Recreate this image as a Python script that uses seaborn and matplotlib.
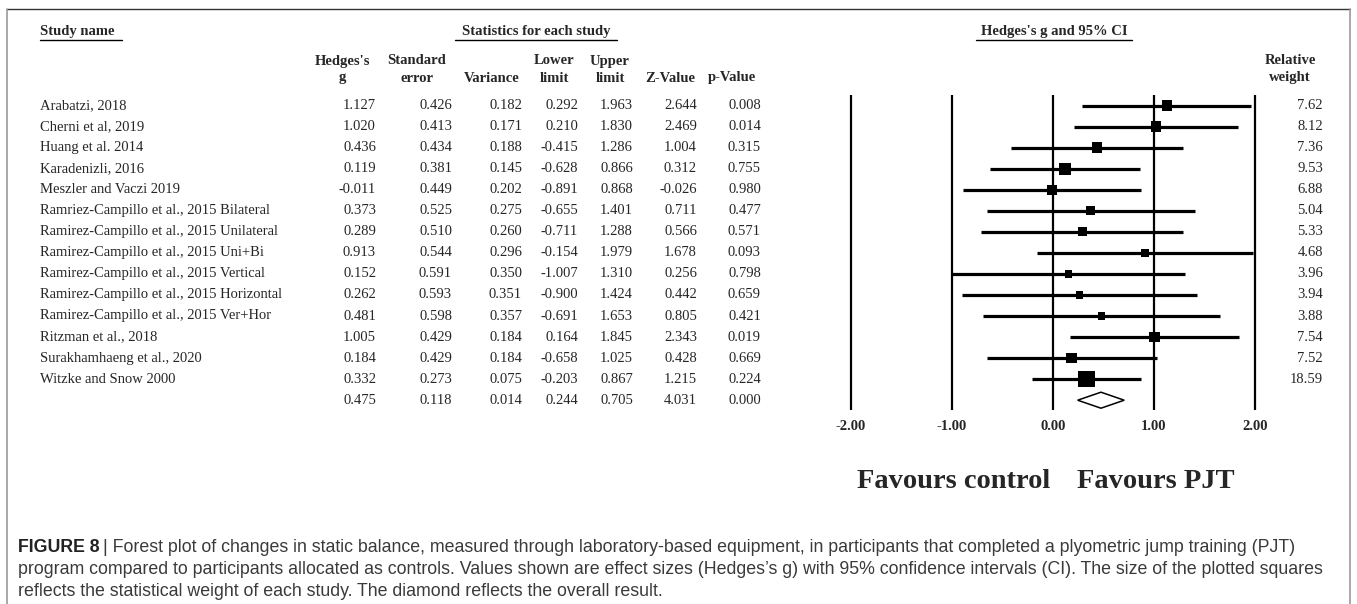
import numpy as np
import pandas as pd
import matplotlib
matplotlib.use("Agg")
import matplotlib.pyplot as plt
import matplotlib.transforms as mtransforms
from matplotlib.lines import Line2D
import seaborn as sns

# ---------------- data ----------------
studies = [
    "Arabatzi, 2018",
    "Cherni et al, 2019",
    "Huang et al. 2014",
    "Karadenizli, 2016",
    "Meszler and Vaczi 2019",
    "Ramriez-Campillo et al., 2015 Bilateral",
    "Ramirez-Campillo et al., 2015 Unilateral",
    "Ramirez-Campillo et al., 2015 Uni+Bi",
    "Ramirez-Campillo et al., 2015 Vertical",
    "Ramirez-Campillo et al., 2015 Horizontal",
    "Ramirez-Campillo et al., 2015 Ver+Hor",
    "Ritzman et al., 2018",
    "Surakhamhaeng et al., 2020",
    "Witzke and Snow 2000",
]
hedges_g = [1.127, 1.020, 0.436, 0.119, -0.011, 0.373, 0.289, 0.913, 0.152, 0.262, 0.481, 1.005, 0.184, 0.332]
std_err = [0.426, 0.413, 0.434, 0.381, 0.449, 0.525, 0.510, 0.544, 0.591, 0.593, 0.598, 0.429, 0.429, 0.273]
variance = [0.182, 0.171, 0.188, 0.145, 0.202, 0.275, 0.260, 0.296, 0.350, 0.351, 0.357, 0.184, 0.184, 0.075]
lower = [0.292, 0.210, -0.415, -0.628, -0.891, -0.655, -0.711, -0.154, -1.007, -0.900, -0.691, 0.164, -0.658, -0.203]
upper = [1.963, 1.830, 1.286, 0.866, 0.868, 1.401, 1.288, 1.979, 1.310, 1.424, 1.653, 1.845, 1.025, 0.867]
z_value = [2.644, 2.469, 1.004, 0.312, -0.026, 0.711, 0.566, 1.678, 0.256, 0.442, 0.805, 2.343, 0.428, 1.215]
p_value = [0.008, 0.014, 0.315, 0.755, 0.980, 0.477, 0.571, 0.093, 0.798, 0.659, 0.421, 0.019, 0.669, 0.224]
rel_weight = [7.62, 8.12, 7.36, 9.53, 6.88, 5.04, 5.33, 4.68, 3.96, 3.94, 3.88, 7.54, 7.52, 18.59]
# overall: g, SE, variance, lower, upper, Z, p
summary = [0.475, 0.118, 0.014, 0.244, 0.705, 4.031, 0.000]
x_ticks = [-2.0, -1.0, 0.0, 1.0, 2.0]
x_tick_labels = ["-2.00", "-1.00", "0.00", "1.00", "2.00"]

caption_lines = [
    "Forest plot of changes in static balance, measured through laboratory-based equipment, in participants that completed a plyometric jump training (PJT)",
    "program compared to participants allocated as controls. Values shown are effect sizes (Hedges\u2019s g) with 95% confidence intervals (CI). The size of the plotted squares",
    "reflects the statistical weight of each study. The diamond reflects the overall result.",
]

# ---------------- figure ----------------
sns.set_theme(style="white")
SERIF = ["Liberation Serif", "DejaVu Serif"]
SANS = ["Liberation Sans", "DejaVu Sans"]
plt.rcParams["font.family"] = SERIF

W, H = 1357, 604
fig = plt.figure(figsize=(W / 100, H / 100), dpi=100)
fig.patch.set_facecolor("white")


def fx(x):
    return x / W


def fy(y):
    return 1 - y / H


# row geometry (pixels): row i centre = Y0 + DY * i
Y0, DY = 105.5, 21.05
X0, DX = 1053.0, 101.0   # pixel of g=0, pixels per unit
xlim = (-2.3, 2.3)
ylim = (14.6, -0.7)
left_px = X0 + DX * xlim[0]
right_px = X0 + DX * xlim[1]
top_px = Y0 + DY * ylim[1]
bot_px = Y0 + DY * ylim[0]
ax = fig.add_axes([fx(left_px), fy(bot_px), (right_px - left_px) / W, (bot_px - top_px) / H])
ax.set_xlim(*xlim)
ax.set_ylim(*ylim)
for s in ax.spines.values():
    s.set_visible(False)
ax.set_yticks([])
ax.set_facecolor("none")

n = len(studies)
rows = np.arange(n)

# vertical reference lines
ax.vlines(x_ticks, (95 - Y0) / DY, (410 - Y0) / DY, color="black", lw=1.6, zorder=1)
# confidence intervals
ax.hlines(rows, lower, upper, color="black", lw=2.3, zorder=2)
# weighted squares
df = pd.DataFrame({"g": hedges_g, "row": rows, "w": rel_weight})
sns.scatterplot(data=df, x="g", y="row", size="w", sizes=(30, 140),
                size_norm=(min(rel_weight), max(rel_weight)), marker="s",
                color="black", edgecolor="black", linewidth=0, legend=False,
                ax=ax, zorder=3)
ax.set_xlabel("")
ax.set_ylabel("")
# summary diamond
sy = n
hh = 0.38
ax.fill([summary[3], summary[0], summary[4], summary[0]],
        [sy, sy - hh, sy, sy + hh], facecolor="white", edgecolor="black", lw=1.1, zorder=3)

ax.set_xticks(x_ticks)
ax.set_xticklabels(x_tick_labels, fontweight="bold", fontsize=10.5, family=SERIF)
ax.tick_params(axis="x", length=0, pad=5)

# ---------------- table text ----------------
trans = mtransforms.blended_transform_factory(fig.transFigure, ax.transData)
FS = 10.5
col_right = [376, 452, 522, 578, 633, 697, 761]
cols = [hedges_g, std_err, variance, lower, upper, z_value, p_value]
for i in range(n):
    fig.text(fx(40), i, studies[i], transform=trans, ha="left", va="center", fontsize=FS)
    for xr, col in zip(col_right, cols):
        fig.text(fx(xr), i, f"{col[i]:.3f}", transform=trans, ha="right", va="center", fontsize=FS)
    fig.text(fx(1323), i, f"{rel_weight[i]:.2f}", transform=trans, ha="right", va="center", fontsize=FS)
for xr, v in zip(col_right, summary):
    fig.text(fx(xr), n, f"{v:.3f}", transform=trans, ha="right", va="center", fontsize=FS)

# headers
HY1, HY2 = 61, 78
bold = dict(fontweight="bold", fontsize=FS, ha="center", va="center")
fig.text(fx(342), fy(HY1), "Hedges's", **bold)
fig.text(fx(342), fy(HY2), "g", **bold)
fig.text(fx(417), fy(HY1), "Standard", **bold)
fig.text(fx(417), fy(HY2), "error", **bold)
fig.text(fx(492), fy(HY2), "Variance", **bold)
fig.text(fx(554), fy(HY1), "Lower", **bold)
fig.text(fx(554), fy(HY2), "limit", **bold)
fig.text(fx(610), fy(HY1), "Upper", **bold)
fig.text(fx(610), fy(HY2), "limit", **bold)
fig.text(fx(670), fy(HY2), "Z-Value", **bold)
fig.text(fx(732), fy(HY2), "p-Value", **bold)
fig.text(fx(1290), fy(HY1), "Relative", **bold)
fig.text(fx(1290), fy(HY2), "weight", **bold)

TY = 32
fig.text(fx(40), fy(TY), "Study name", fontweight="bold", fontsize=FS, ha="left", va="center")
fig.text(fx(536), fy(TY), "Statistics for each study", fontweight="bold", fontsize=FS, ha="center", va="center")
fig.text(fx(1054), fy(TY), "Hedges's g and 95% CI", fontweight="bold", fontsize=FS, ha="center", va="center")
for x1, x2 in [(40, 122), (455, 617), (976, 1132)]:
    fig.add_artist(Line2D([fx(x1), fx(x2)], [fy(40), fy(40)], color="black", lw=1.0))

# favours labels
fig.text(fx(857), fy(482), "Favours control", fontweight="bold", fontsize=20.5, ha="left", va="center")
fig.text(fx(1077), fy(482), "Favours PJT", fontweight="bold", fontsize=20.5, ha="left", va="center")

# ---------------- caption ----------------
CFS = 12.75
cap_y = [547, 569, 591]
t0 = fig.text(fx(18), fy(cap_y[0]), "FIGURE 8", fontweight="bold", fontsize=CFS,
              family=SANS, color="#222222", ha="left", va="center")
fig.canvas.draw()
bb = t0.get_window_extent(renderer=fig.canvas.get_renderer())
fig.text(bb.x1 / W + fx(3), fy(cap_y[0]), "| " + caption_lines[0], fontsize=CFS,
         family=SANS, color="#3a3a3a", ha="left", va="center")
fig.text(fx(18), fy(cap_y[1]), caption_lines[1], fontsize=CFS, family=SANS,
         color="#3a3a3a", ha="left", va="center")
fig.text(fx(18), fy(cap_y[2]), caption_lines[2], fontsize=CFS, family=SANS,
         color="#3a3a3a", ha="left", va="center")

# ---------------- frame ----------------
fig.add_artist(Line2D([fx(7), fx(1350)], [fy(9), fy(9)], color="#333333", lw=1.0))
fig.add_artist(Line2D([fx(7), fx(7)], [fy(9), 0], color="#999999", lw=1.2))
fig.add_artist(Line2D([fx(1350), fx(1350)], [fy(9), 0], color="#999999", lw=1.2))

fig.savefig("out.png", dpi=100, facecolor="white")
